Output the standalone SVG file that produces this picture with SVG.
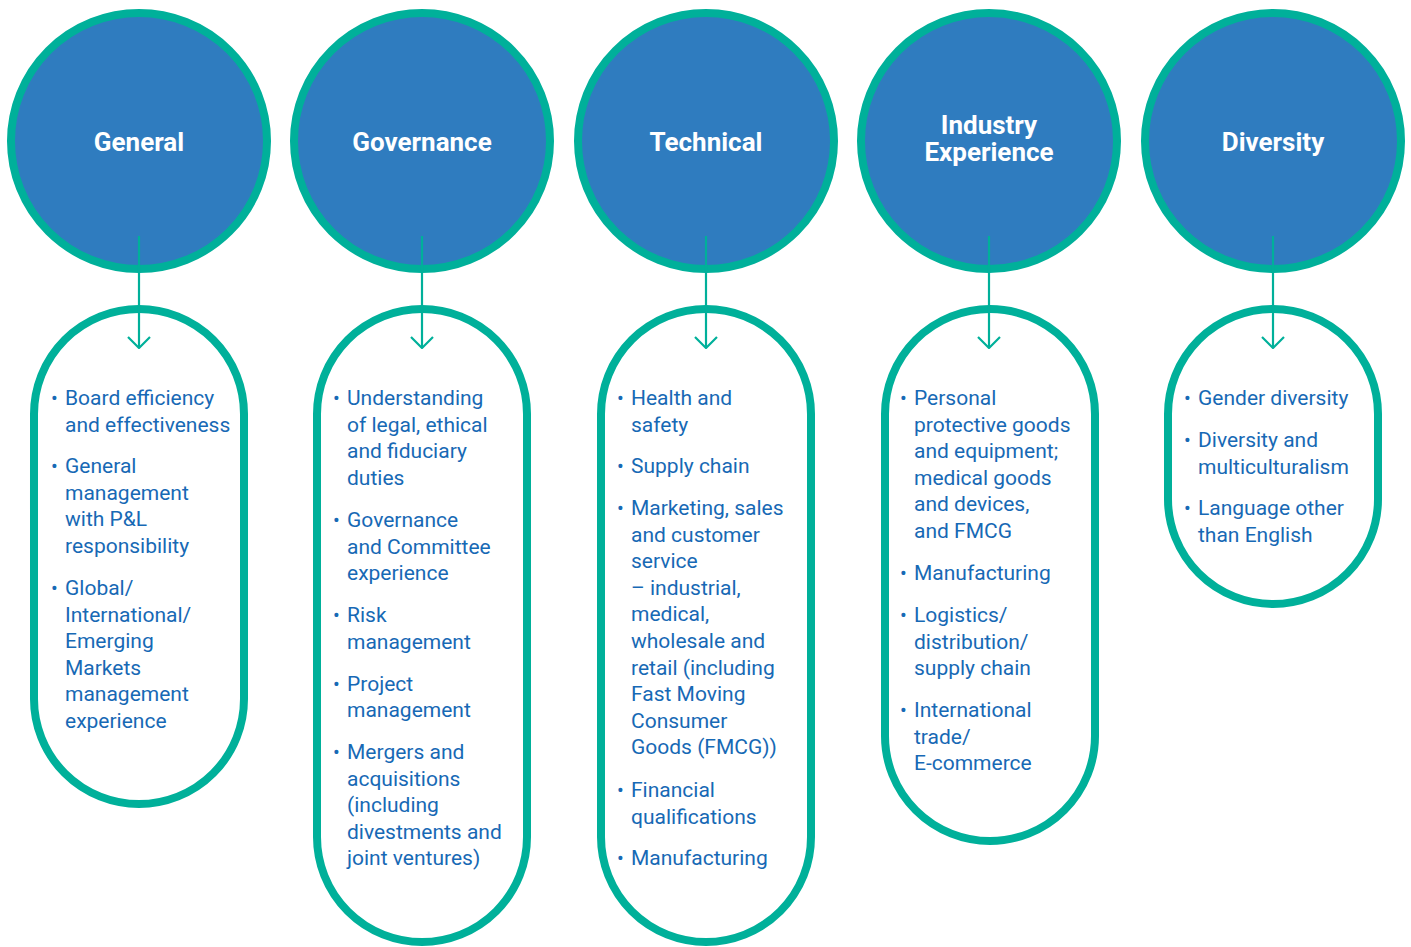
<svg xmlns="http://www.w3.org/2000/svg" width="1411" height="947" viewBox="0 0 1411 947">
<style>
.circ{fill:#2f7cbf;stroke:#00b09a;stroke-width:8}
.pill{fill:#ffffff;stroke:#00b09a;stroke-width:8}
.head{font-family:Roboto,"Liberation Sans",sans-serif;font-weight:bold;font-size:26px;fill:#ffffff;text-anchor:middle}
.item{font-family:Roboto,"Liberation Sans",sans-serif;font-size:21px;fill:#1769b5}
.bul{font-family:Roboto,"Liberation Sans",sans-serif;font-size:20px;fill:#1769b5}
.conn{stroke:#00b09a;stroke-width:2.2;fill:none}
</style>
<defs>
<marker id="chev" viewBox="0 0 14 24" refX="13" refY="12" markerWidth="14" markerHeight="24" markerUnits="userSpaceOnUse" orient="auto">
<path d="M2,1 L13,12 L2,23" fill="none" stroke="#00b09a" stroke-width="2.2"/>
</marker>
</defs>
<rect width="1411" height="947" fill="#ffffff"/>

<g id="general">
<circle class="circ" cx="139" cy="141" r="128"/>
<text class="head" x="139" y="151">General</text>
<rect class="pill" x="34" y="309" width="210" height="495" rx="105"/>
<text class="bul" x="51" y="405">•</text>
<text class="item" x="65" y="405">Board efficiency<tspan x="65" dy="26.6">and effectiveness</tspan></text>
<text class="bul" x="51" y="473">•</text>
<text class="item" x="65" y="473">General<tspan x="65" dy="26.6">management</tspan><tspan x="65" dy="26.6">with P&amp;L</tspan><tspan x="65" dy="26.6">responsibility</tspan></text>
<text class="bul" x="51" y="595">•</text>
<text class="item" x="65" y="595">Global/<tspan x="65" dy="26.6">International/</tspan><tspan x="65" dy="26.6">Emerging</tspan><tspan x="65" dy="26.6">Markets</tspan><tspan x="65" dy="26.6">management</tspan><tspan x="65" dy="26.6">experience</tspan></text>
</g>

<g id="governance">
<circle class="circ" cx="422" cy="141" r="128"/>
<text class="head" x="422" y="151">Governance</text>
<rect class="pill" x="317" y="309" width="210" height="633" rx="105"/>
<text class="bul" x="333" y="405">•</text>
<text class="item" x="347" y="405">Understanding<tspan x="347" dy="26.6">of legal, ethical</tspan><tspan x="347" dy="26.6">and fiduciary</tspan><tspan x="347" dy="26.6">duties</tspan></text>
<text class="bul" x="333" y="527">•</text>
<text class="item" x="347" y="527">Governance<tspan x="347" dy="26.6">and Committee</tspan><tspan x="347" dy="26.6">experience</tspan></text>
<text class="bul" x="333" y="622">•</text>
<text class="item" x="347" y="622">Risk<tspan x="347" dy="26.6">management</tspan></text>
<text class="bul" x="333" y="690.5">•</text>
<text class="item" x="347" y="690.5">Project<tspan x="347" dy="26.6">management</tspan></text>
<text class="bul" x="333" y="759">•</text>
<text class="item" x="347" y="759">Mergers and<tspan x="347" dy="26.6">acquisitions</tspan><tspan x="347" dy="26.6">(including</tspan><tspan x="347" dy="26.6">divestments and</tspan><tspan x="347" dy="26.6">joint ventures)</tspan></text>
</g>

<g id="technical">
<circle class="circ" cx="706" cy="141" r="128"/>
<text class="head" x="706" y="151">Technical</text>
<rect class="pill" x="601" y="309" width="210" height="633" rx="105"/>
<text class="bul" x="617" y="405">•</text>
<text class="item" x="631" y="405">Health and<tspan x="631" dy="26.6">safety</tspan></text>
<text class="bul" x="617" y="473">•</text>
<text class="item" x="631" y="473">Supply chain</text>
<text class="bul" x="617" y="515">•</text>
<text class="item" x="631" y="515">Marketing, sales<tspan x="631" dy="26.6">and customer</tspan><tspan x="631" dy="26.6">service</tspan><tspan x="631" dy="26.6">– industrial,</tspan><tspan x="631" dy="26.6">medical,</tspan><tspan x="631" dy="26.6">wholesale and</tspan><tspan x="631" dy="26.6">retail (including</tspan><tspan x="631" dy="26.6">Fast Moving</tspan><tspan x="631" dy="26.6">Consumer</tspan><tspan x="631" dy="26.6">Goods (FMCG))</tspan></text>
<text class="bul" x="617" y="797">•</text>
<text class="item" x="631" y="797">Financial<tspan x="631" dy="26.6">qualifications</tspan></text>
<text class="bul" x="617" y="865">•</text>
<text class="item" x="631" y="865">Manufacturing</text>
</g>

<g id="industry">
<circle class="circ" cx="989" cy="141" r="128"/>
<text class="head" x="989" y="134">Industry<tspan x="989" dy="27">Experience</tspan></text>
<rect class="pill" x="885" y="309" width="210" height="532" rx="105"/>
<text class="bul" x="900" y="405">•</text>
<text class="item" x="914" y="405">Personal<tspan x="914" dy="26.6">protective goods</tspan><tspan x="914" dy="26.6">and equipment;</tspan><tspan x="914" dy="26.6">medical goods</tspan><tspan x="914" dy="26.6">and devices,</tspan><tspan x="914" dy="26.6">and FMCG</tspan></text>
<text class="bul" x="900" y="580">•</text>
<text class="item" x="914" y="580">Manufacturing</text>
<text class="bul" x="900" y="622">•</text>
<text class="item" x="914" y="622">Logistics/<tspan x="914" dy="26.6">distribution/</tspan><tspan x="914" dy="26.6">supply chain</tspan></text>
<text class="bul" x="900" y="717">•</text>
<text class="item" x="914" y="717">International<tspan x="914" dy="26.6">trade/</tspan><tspan x="914" dy="26.6">E-commerce</tspan></text>
</g>

<g id="diversity">
<circle class="circ" cx="1273" cy="141" r="128"/>
<text class="head" x="1273" y="151">Diversity</text>
<rect class="pill" x="1168" y="309" width="210" height="295" rx="105"/>
<text class="bul" x="1184" y="405">•</text>
<text class="item" x="1198" y="405">Gender diversity</text>
<text class="bul" x="1184" y="447">•</text>
<text class="item" x="1198" y="447">Diversity and<tspan x="1198" dy="26.6">multiculturalism</tspan></text>
<text class="bul" x="1184" y="515">•</text>
<text class="item" x="1198" y="515">Language other<tspan x="1198" dy="26.6">than English</tspan></text>
</g>

<g id="connectors">
<line class="conn" x1="139" y1="236" x2="139" y2="348" marker-end="url(#chev)"/>
<line class="conn" x1="422" y1="236" x2="422" y2="348" marker-end="url(#chev)"/>
<line class="conn" x1="706" y1="236" x2="706" y2="348" marker-end="url(#chev)"/>
<line class="conn" x1="989" y1="236" x2="989" y2="348" marker-end="url(#chev)"/>
<line class="conn" x1="1273" y1="236" x2="1273" y2="348" marker-end="url(#chev)"/>
</g>
</svg>
